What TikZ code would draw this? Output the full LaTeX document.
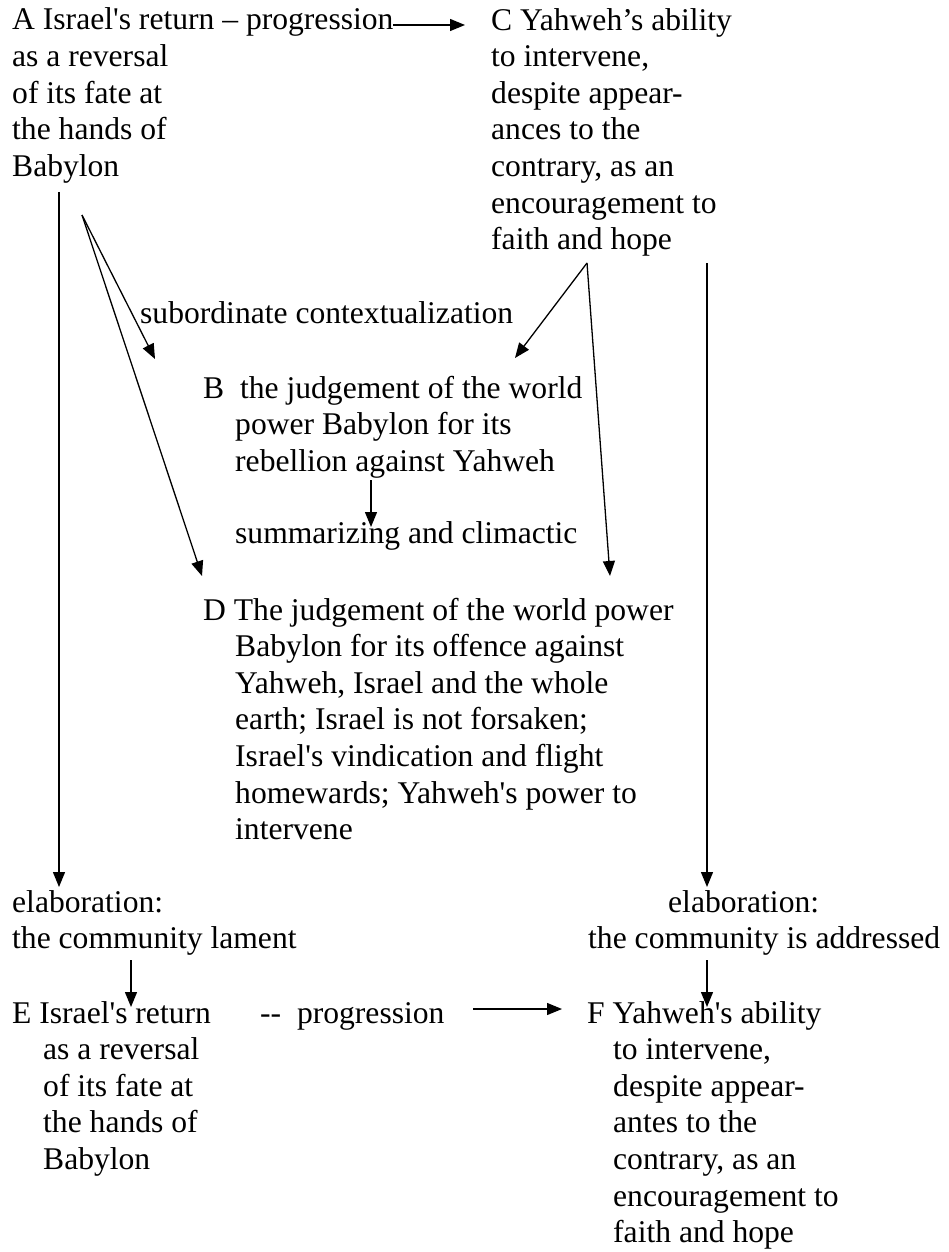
\documentclass[tikz,border=0pt]{standalone}
\usepackage{fontspec}
\newfontfamily\tnr{Liberation Serif}
\usetikzlibrary{arrows.meta}
% multi-line nodes: base anchor = baseline of the last line
\tikzset{
  txt/.style={inner sep=0pt, anchor=base west, align=left, font=\tnr\fontsize{31.6}{36.6}\selectfont},
  conn/.style={line width=1.3pt, -{Triangle[length=15pt,width=12pt]}}
}
\begin{document}
\begin{tikzpicture}[x=1pt,y=-1pt]
\useasboundingbox (0,0) rectangle (948,1252);
\node[txt] (A) at (12,176.4) {A Israel's return – progression\\as a reversal\\of its fate at\\the hands of\\Babylon};
\node[txt] (C) at (491,249.6) {C Yahweh’s ability\\to intervene,\\despite appear-\\ances to the\\contrary, as an\\encouragement to\\faith and hope};
\node[txt] (sub) at (140,323) {subordinate contextualization};
\node[txt] (B) at (203,471.2) {B\ \ the judgement of the world\\\hspace*{32pt}power Babylon for its\\\hspace*{32pt}rebellion against Yahweh};
\node[txt] (sum) at (235,543) {summarizing and climactic};
\node[txt] (D) at (203,839.6) {D The judgement of the world power\\\hspace*{32pt}Babylon for its offence against\\\hspace*{32pt}Yahweh, Israel and the whole\\\hspace*{32pt}earth; Israel is not forsaken;\\\hspace*{32pt}Israel's vindication and flight\\\hspace*{32pt}homewards; Yahweh's power to\\\hspace*{32pt}intervene};
\node[txt] (eL) at (12,948.6) {elaboration:\\the community lament};
\node[txt] (eR) at (588,948.6) {\hspace*{80pt}elaboration:\\the community is addressed};
\node[txt] (E) at (12,1169.4) {E Israel's return\\\hspace*{31pt}as a reversal\\\hspace*{31pt}of its fate at\\\hspace*{31pt}the hands of\\\hspace*{31pt}Babylon};
\node[txt] (Ep) at (260,1023) {-- \ progression};
\node[txt] (F) at (587,1242.6) {F Yahweh's ability\\\hspace*{26pt}to intervene,\\\hspace*{26pt}despite appear-\\\hspace*{26pt}antes to the\\\hspace*{26pt}contrary, as an\\\hspace*{26pt}encouragement to\\\hspace*{26pt}faith and hope};
% free connector points
\coordinate (pA1) at (393,25);
\coordinate (pC1) at (465,25);
\coordinate (aV0) at (59,192);
\coordinate (aV1) at (59,887);
\coordinate (aF) at (82,215);
\coordinate (bT) at (155,359);
\coordinate (dT) at (202,576);
\coordinate (cF) at (587,263);
\coordinate (bT2) at (515,358);
\coordinate (dT2) at (610,576);
\coordinate (cV0) at (707,263);
\coordinate (cV1) at (707,887);
\coordinate (bs0) at (371,480);
\coordinate (bs1) at (371,527);
\coordinate (l0) at (131,960);
\coordinate (l1) at (131,1007);
\coordinate (r0) at (707,960);
\coordinate (r1) at (707,1007);
\coordinate (ep0) at (473,1009);
\coordinate (ep1) at (562,1009);
\draw[conn] (pA1) -- (pC1);
\draw[conn] (aV0) -- (aV1);
\draw[conn] (aF) -- (bT);
\draw[conn] (aF) -- (dT);
\draw[conn] (cF) -- (bT2);
\draw[conn] (cF) -- (dT2);
\draw[conn] (cV0) -- (cV1);
\draw[conn] (bs0) -- (bs1);
\draw[conn] (l0) -- (l1);
\draw[conn] (r0) -- (r1);
\draw[conn] (ep0) -- (ep1);
\end{tikzpicture}
\end{document}
